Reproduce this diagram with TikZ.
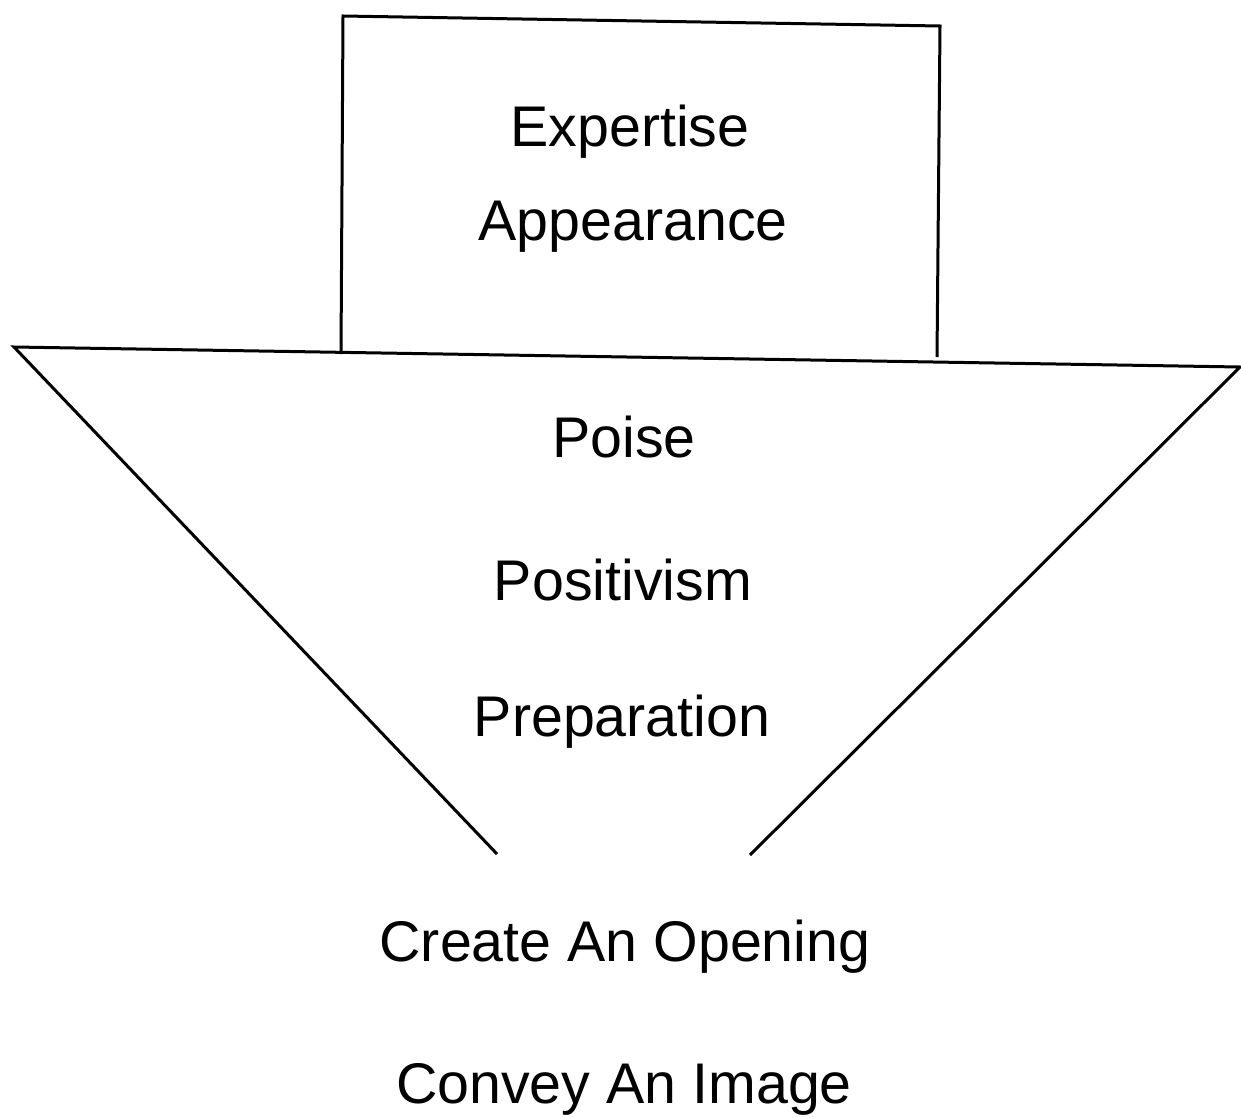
\documentclass[tikz,border=0pt]{standalone}
\usepackage{fontspec}
\setmainfont{Liberation Sans}

\tikzset{every picture/.style={line width=2.25pt}}
\tikzset{lbl/.style={inner sep=0.75pt,font=\fontsize{43}{50}\selectfont}}

\begin{document}
\begin{tikzpicture}[x=0.75pt,y=0.75pt,yscale=-1,xscale=1]
\useasboundingbox (0,0) rectangle (1241,1117);

%Corners
\coordinate (boxTL) at (343,16);
\coordinate (boxTR) at (940,26);
\coordinate (boxBL) at (341,354);
\coordinate (boxBR) at (937,357);
\coordinate (funL) at (14,347);
\coordinate (funR) at (1240,367);
\coordinate (tipL) at (497,854);
\coordinate (tipR) at (750,855);

%Shape: Box
\draw (boxBL) -- (boxTL) -- (boxTR) -- (boxBR) ;
%Shape: Funnel
\draw (tipL) -- (funL) -- (funR) -- (tipR) ;

% Text Node
\node (expertise) at (630,132) [lbl] {Expertise};
% Text Node
\node (appearance) at (633,227) [lbl] {Appearance};
% Text Node
\node (poise) at (624,437) [lbl] {Poise};
% Text Node
\node (positivism) at (623,580) [lbl] {Positivism};
% Text Node
\node (preparation) at (622,722) [lbl] {Preparation};
% Text Node
\node (opening) at (625,947) [lbl] {Create An Opening};
% Text Node
\node (image) at (624,1089) [lbl] {Convey An Image};

\end{tikzpicture}
\end{document}
